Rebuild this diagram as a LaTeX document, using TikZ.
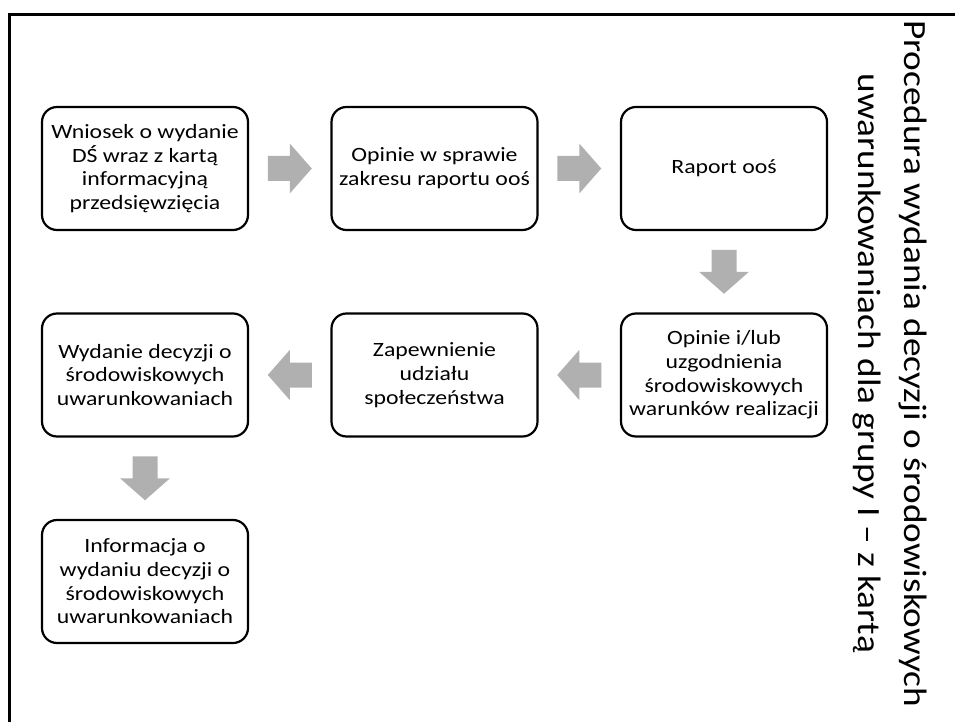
\documentclass[tikz,border=0pt]{standalone}
\usepackage{fontspec}
\setmainfont{Carlito}
\newfontfamily\boxfont[FakeStretch=1.17]{Carlito}
\newfontfamily\titlefont[FakeStretch=1.15]{Carlito}
\usetikzlibrary{calc}
\definecolor{arrgray}{RGB}{176,176,176}
\tikzset{
  box/.style={draw,line width=2.2pt,rounded corners=15pt,minimum width=206pt,minimum height=123pt,inner sep=0pt,align=center,font=\boxfont\fontsize{20.3}{23.7}\selectfont},
  blockarr/.pic={\fill[arrgray] (-22,-12.5) -- (0,-12.5) -- (0,-25) -- (22,0) -- (0,25) -- (0,12.5) -- (-22,12.5) -- cycle;}
}

\begin{document}
\begin{tikzpicture}[x=1pt,y=-1pt]
\useasboundingbox (0,0) rectangle (955,722);
\draw[line width=3pt] (9,722) -- (9,15) -- (955,15);
\node[box] (wniosek) at (145,168.5) {Wniosek o wydanie\\DŚ wraz z kartą\\informacyjną\\przedsięwzięcia};
\node[box] (zakres) at (434.5,168.5) {Opinie w sprawie\\zakresu raportu ooś};
\node[box] (raport) at (724,168.5) {Raport ooś};
\node[box] (uzgod) at (724,375) {Opinie i/lub\\uzgodnienia\\środowiskowych\\warunków realizacji};
\node[box] (udzial) at (434.5,375) {Zapewnienie\\udziału\\społeczeństwa};
\node[box] (decyzja) at (145,375) {Wydanie decyzji o\\środowiskowych\\uwarunkowaniach};
\node[box] (info) at (145,581.5) {Informacja o\\wydaniu decyzji o\\środowiskowych\\uwarunkowaniach};
\pic at ($(wniosek.east)!0.5!(zakres.west)$) {blockarr};
\pic at ($(zakres.east)!0.5!(raport.west)$) {blockarr};
\pic[rotate=-90] at ($(raport.south)!0.5!(uzgod.north)$) {blockarr};
\pic[rotate=180] at ($(uzgod.west)!0.5!(udzial.east)$) {blockarr};
\pic[rotate=180] at ($(udzial.west)!0.5!(decyzja.east)$) {blockarr};
\pic[rotate=-90] at ($(decyzja.south)!0.5!(info.north)$) {blockarr};
\node[rotate=-90,anchor=base,align=center,inner sep=0pt,font=\titlefont\fontsize{32.4}{46}\selectfont] (tytul) at (858.3,363.5) {Procedura wydania decyzji o środowiskowych\\uwarunkowaniach dla grupy I – z kartą};
\end{tikzpicture}
\end{document}
